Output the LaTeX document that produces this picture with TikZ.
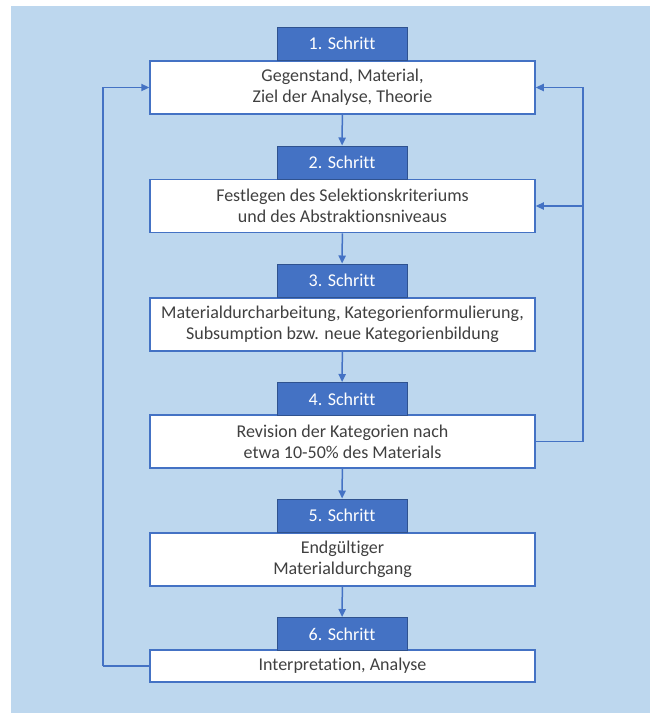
\documentclass[tikz,border=0pt]{standalone}
\usepackage{fontspec}
\setmainfont{Carlito}[Ligatures={NoCommon}]
\usepackage{tikz}
\usetikzlibrary{arrows.meta}
\definecolor{blue3}{HTML}{2f528f}
\definecolor{blue5}{HTML}{4472c4}
\definecolor{blue9}{HTML}{bdd7ee}
\definecolor{gray3}{HTML}{404040}

\begin{document}
\begin{tikzpicture}[x=0.5pt, y=-0.5pt, align=center,
  font=\fontsize{9}{10.5}\selectfont,
  kasten/.style={draw=blue5, line width=0.75pt, fill=white, text=gray3,
    minimum width=192.5pt, minimum height=26.5pt, inner sep=0pt},
  schritt/.style={draw=blue3, line width=0.5pt, fill=blue5, text=white,
    minimum width=65pt, minimum height=16.5pt, inner sep=0pt},
  fluss/.style={draw=blue5, line width=0.75pt,
    -{Triangle[length=4pt, width=3.6pt]}}]
\useasboundingbox (0,0) rectangle (650,713);
\fill[blue9] (11,6) rectangle (650,713);

\node[kasten] (b1) at (342.5,87.5) {Gegenstand, Material,\\Ziel der Analyse, Theorie};
\node[kasten] (b2) at (342.5,206) {Festlegen des Selektionskriteriums\\und des Abstraktionsniveaus};
\node[kasten] (b3) at (342.5,324.5) {Materialdurcharbeitung, Kategorienformulierung,\\Subsumption bzw. neue Kategorienbildung};
\node[kasten] (b4) at (342.5,441.5) {Revision der Kategorien nach\\etwa 10-50\% des Materials};
\node[kasten] (b5) at (342.5,559.5) {Endgültiger\\Materialdurchgang};
\node[kasten, minimum height=16pt] (b6) at (342.5,666) {Interpretation, Analyse};

\node[schritt] (h1) at (342,43.5) {1. Schritt};
\node[schritt] (h2) at (342,162.5) {2. Schritt};
\node[schritt] (h3) at (342,280.5) {3. Schritt};
\node[schritt] (h4) at (342,399) {4. Schritt};
\node[schritt] (h5) at (342,515.5) {5. Schritt};
\node[schritt] (h6) at (342,634) {6. Schritt};

\draw[fluss] (b1) -- (h2);
\draw[fluss] (b2) -- (h3);
\draw[fluss] (b3) -- (h4);
\draw[fluss] (b4) -- (h5);
\draw[fluss] (b5) -- (h6);

% Rueckkopplung
\coordinate (links) at (103,666);
\coordinate (rechts) at (583,441.5);
\draw[draw=blue5, line width=0.75pt] (b6.west) -- (links);
\draw[fluss] (links) |- (b1.west);
\draw[draw=blue5, line width=0.75pt] (b4.east) -- (rechts);
\draw[fluss] (rechts) |- (b1.east);
\draw[fluss] (rechts) |- (b2.east);
\end{tikzpicture}
\end{document}
